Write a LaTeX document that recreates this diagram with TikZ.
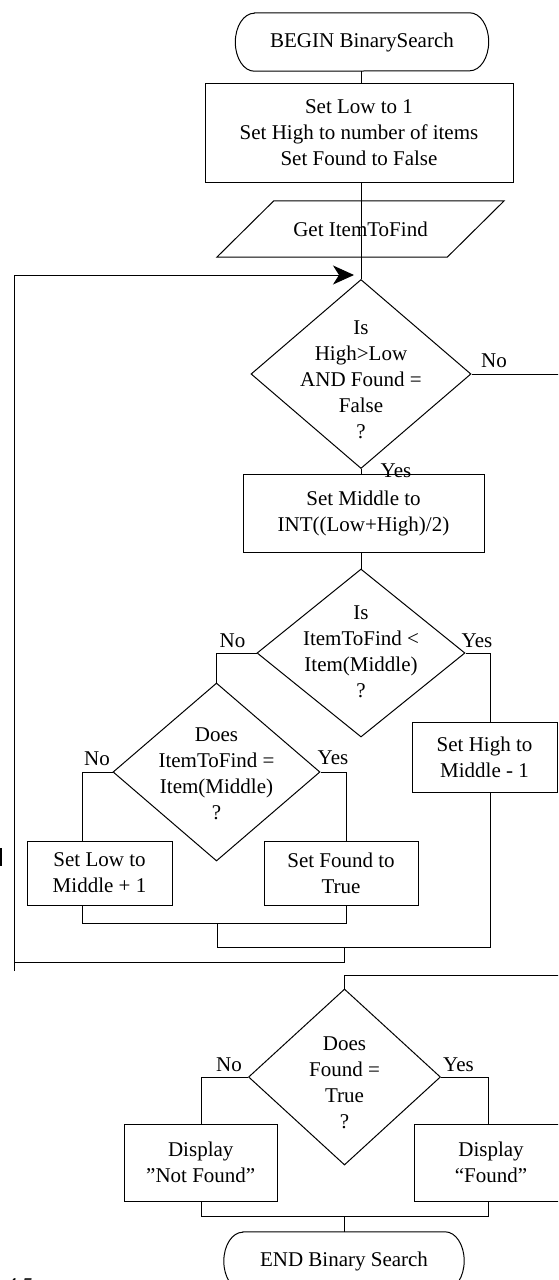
\documentclass[tikz,border=0pt]{standalone}
\usepackage{fontspec}
\setmainfont{Liberation Serif}
\usetikzlibrary{arrows.meta,shapes.geometric}

\tikzset{
  every node/.style={font=\fontsize{21}{26}\selectfont},
  wire/.style={line width=1pt},
  box/.style={draw, rectangle, line width=1pt, inner sep=0pt, align=center},
  dia/.style={draw, diamond, line width=1pt, inner sep=0pt},
  txt/.style={align=center, inner sep=0pt},
  lbl/.style={inner sep=0pt},
  frame/.style={rectangle, inner sep=0pt, align=center},
}

\begin{document}
\begin{tikzpicture}[x=1pt, y=-1pt]
\clip (0,0) rectangle (558,1280);
\useasboundingbox (0,0) rectangle (558,1280);

% start terminal
\node[frame, minimum width=253pt, minimum height=58pt] (begin) at (362,42) {BEGIN BinarySearch};
\draw[wire] ([xshift=19pt]begin.north west) -- ([xshift=-19pt]begin.north east)
  arc[start angle=90, end angle=-90, x radius=19pt, y radius=29pt]
  -- ([xshift=19pt]begin.south west)
  arc[start angle=270, end angle=90, x radius=19pt, y radius=29pt] -- cycle;

% initialisation
\node[box, minimum width=308pt, minimum height=99pt] (init) at (359,132.5)
  {Set Low to 1\\Set High to number of items\\Set Found to False};

% input parallelogram
\node[frame, minimum width=230pt, minimum height=56pt] (input) at (360.5,229) {Get ItemToFind};
\draw[wire] ([xshift=28.5pt]input.north west) -- ([xshift=28.5pt]input.north east)
  -- ([xshift=-28.5pt]input.south east) -- ([xshift=-28.5pt]input.south west) -- cycle;

% loop test
\node[dia, minimum width=220pt, minimum height=189pt] (d1) at (361,374) {};
\node[txt] (d1t) at (361,380) {Is\\High>Low\\AND Found =\\False\\?};
\node[lbl] (d1no) at (494,361) {No};
\node[lbl] (d1yes) at (396,471) {Yes};

\node[box, minimum width=241pt, minimum height=78pt] (mid) at (363.5,513)
  {Set Middle to\\INT((Low+High)/2)};

% compare with middle
\node[dia, minimum width=208pt, minimum height=168pt] (d2) at (361,653) {};
\node[txt] (d2t) at (361,652) {Is\\ItemToFind <\\Item(Middle)\\?};
\node[lbl] (d2no) at (232.5,641) {No};
\node[lbl] (d2yes) at (477,641) {Yes};

\node[box, minimum width=145pt, minimum height=70pt] (sethigh) at (484.5,757)
  {Set High to\\Middle - 1};

\node[dia, minimum width=207pt, minimum height=178pt] (d3) at (216.5,772) {};
\node[txt] (d3t) at (216.5,774) {Does\\ItemToFind =\\Item(Middle)\\?};
\node[lbl] (d3no) at (97,759) {No};
\node[lbl] (d3yes) at (333,757.5) {Yes};

\node[box, minimum width=145pt, minimum height=64pt] (setlow) at (99.5,873)
  {Set Low to\\Middle + 1};
\node[box, minimum width=154pt, minimum height=64pt] (setfound) at (341,873)
  {Set Found to\\True};

% result test
\node[dia, minimum width=192pt, minimum height=176pt] (d4) at (344.5,1077) {};
\node[txt] (d4t) at (344.5,1083) {Does\\Found =\\True\\?};
\node[lbl] (d4no) at (229,1065) {No};
\node[lbl] (d4yes) at (458.5,1065) {Yes};

\node[box, minimum width=152.5pt, minimum height=77pt] (notfound) at (200.75,1162.5)
  {Display\\”Not Found”};
\node[box, minimum width=154pt, minimum height=77pt] (found) at (491,1162.5)
  {Display\\“Found”};

% end terminal
\node[frame, minimum width=240pt, minimum height=58pt] (end) at (344,1261) {END Binary Search};
\draw[wire] ([xshift=19pt]end.north west) -- ([xshift=-19pt]end.north east)
  arc[start angle=90, end angle=-90, x radius=19pt, y radius=29pt]
  -- ([xshift=19pt]end.south west)
  arc[start angle=270, end angle=90, x radius=19pt, y radius=29pt] -- cycle;

% junction and turning points
\coordinate (tip) at (354,275);
\coordinate (exit1) at (560,374);
\coordinate (lowjoin) at (82,923);
\coordinate (foundjoin) at (346,923);
\coordinate (innerjoin) at (217,923);
\coordinate (innerdrop) at (217,947);
\coordinate (highjoin) at (490,947);
\coordinate (outerjoin) at (344,947);
\coordinate (loopbottom) at (344,962);
\coordinate (loopcorner) at (14,962);
\coordinate (looptail) at (14,971);
\coordinate (looptop) at (14,275);
\coordinate (exit2) at (560,975);
\coordinate (entry2) at (344.5,975);
\coordinate (nfjoin) at (201,1216);
\coordinate (fjoin) at (488.6,1216);
\coordinate (endjoin) at (344.5,1216);

% main spine
\draw[wire] (begin.south -| d1.north) -- (init.north -| d1.north);
\draw[wire] (init.south -| d1.north) -- (input.south -| d1.north);
\draw[wire] (input.south -| d1.north) -- (d1.north);
\draw[wire] (d1.south) -- (mid.north -| d1.south);
\draw[wire] (mid.south -| d2.north) -- (d2.north);
\draw[wire] (d1.east) -- (exit1);

% branches of the middle test
\draw[wire] (d2.west) -| (d3.north);
\draw[wire] (d2.east) -| (sethigh.north -| highjoin);
\draw[wire] (d3.west) -| (setlow.north -| lowjoin);
\draw[wire] (d3.east) -| (setfound.north -| foundjoin);

% joins back to the loop
\draw[wire] (setlow.south -| lowjoin) |- (foundjoin) -- (setfound.south -| foundjoin);
\draw[wire] (innerjoin) -- (innerdrop) -- (highjoin) -- (sethigh.south -| highjoin);
\draw[wire] (outerjoin) -- (loopbottom) -- (loopcorner);
\draw[wire] (looptail) -- (looptop);
\draw[wire, -{Stealth[length=21pt, width=19pt, inset=6pt]}] (looptop) -- (tip);

% final test
\draw[wire] (exit2) -- (entry2) -- (d4.north);
\draw[wire] (d4.west) -| (notfound.north -| nfjoin);
\draw[wire] (d4.east) -| (found.north -| fjoin);
\draw[wire] (notfound.south -| nfjoin) -- (nfjoin) -- (fjoin) -- (found.south -| fjoin);
\draw[wire] (endjoin) -- (end.north -| endjoin);

% page number fragment and margin mark
\node[lbl, anchor=base west, font=\fontsize{21}{26}\itshape] (pageno) at (6,1292) {4.5};
\draw[line width=1.2pt] (1,848) -- (1,866);
\end{tikzpicture}
\end{document}
